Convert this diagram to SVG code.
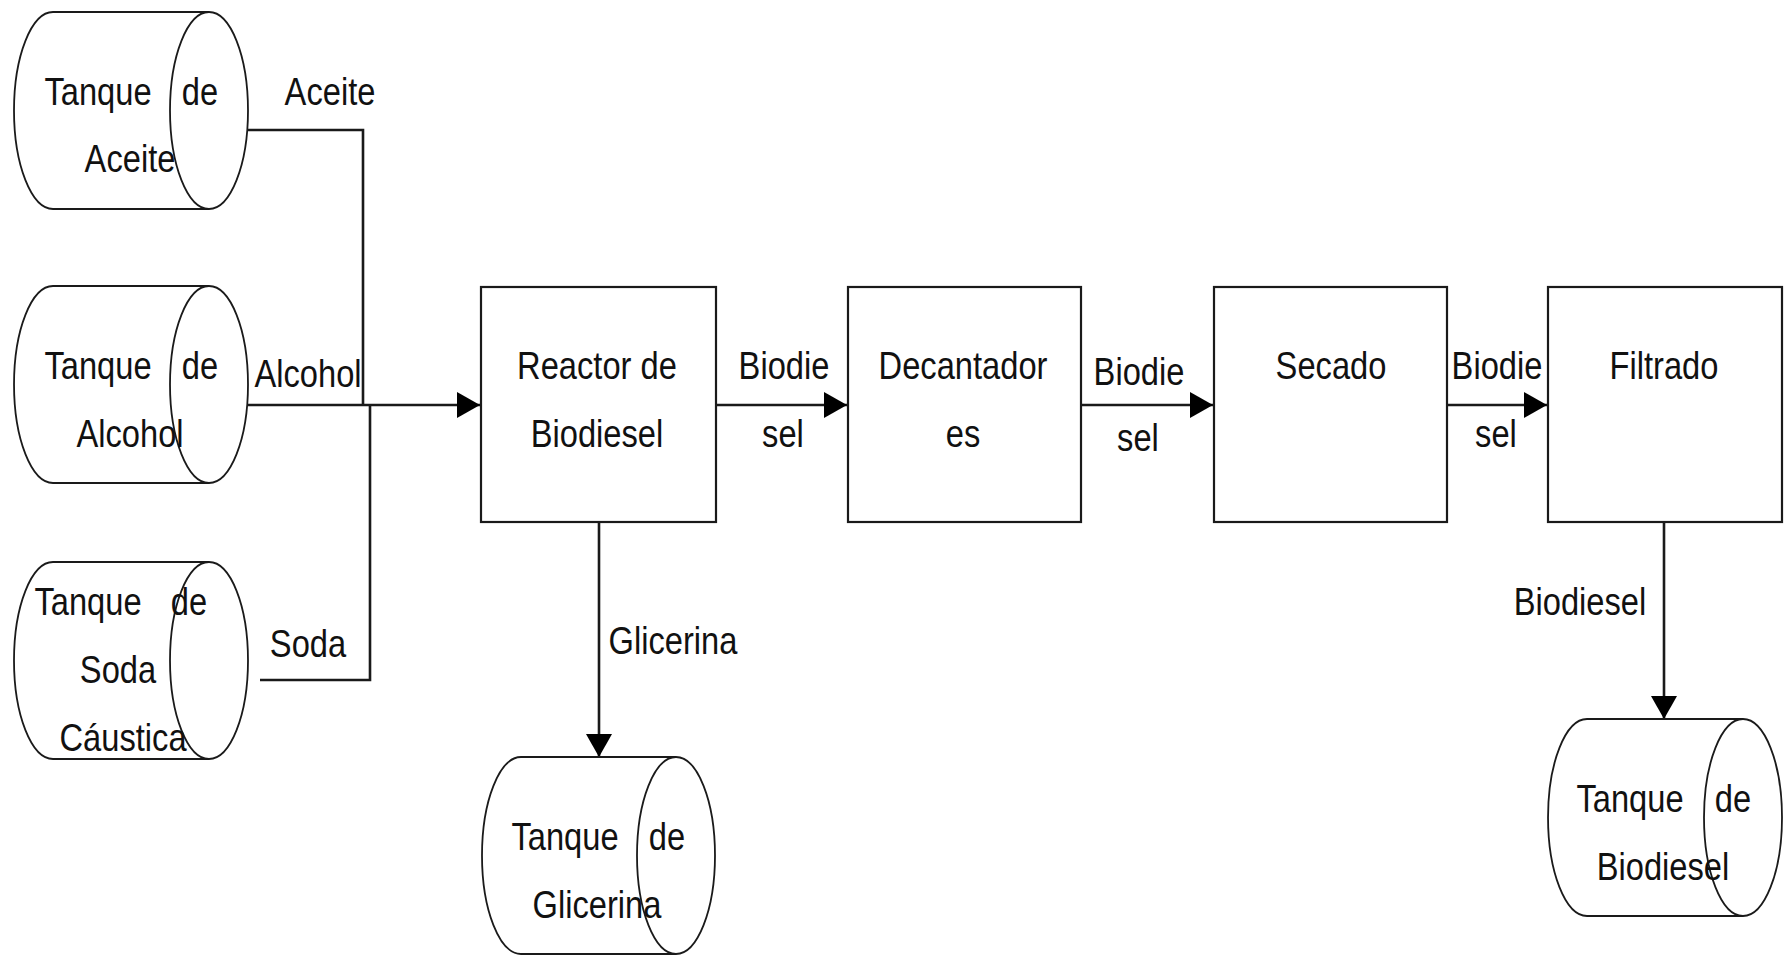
<svg xmlns="http://www.w3.org/2000/svg" width="1791" height="956" viewBox="0 0 1791 956">
<style>
  .bg { fill: #ffffff; }
  .box { fill: #ffffff; stroke: #1a1a1a; stroke-width: 2.2; }
  .cyl { fill: #ffffff; stroke: #1a1a1a; stroke-width: 1.8; }
  .conn { fill: none; stroke: #1a1a1a; stroke-width: 2.6; }
  text { font-family: "Liberation Sans", Arial, sans-serif; font-size: 38px; fill: #111111; text-anchor: middle; transform-box: fill-box; transform-origin: center; transform: scaleX(0.86); }
</style>
<defs>
  <marker id="arrow" markerUnits="userSpaceOnUse" markerWidth="24" markerHeight="26" refX="23" refY="13" orient="auto">
    <path d="M0,0 L23,13 L0,26 z" fill="#000000"/>
  </marker>
</defs>
<rect class="bg" x="0" y="0" width="1791" height="956"/>

<g id="connectors">
  <path class="conn" d="M248,130 H363 V405"/>
  <path class="conn" d="M260,680 H370 V405"/>
  <path class="conn" d="M248,405 H480" marker-end="url(#arrow)"/>
  <path class="conn" d="M716,405 H847" marker-end="url(#arrow)"/>
  <path class="conn" d="M1081,405 H1213" marker-end="url(#arrow)"/>
  <path class="conn" d="M1447,405 H1547" marker-end="url(#arrow)"/>
  <path class="conn" d="M599,522 V757" marker-end="url(#arrow)"/>
  <path class="conn" d="M1664,522 V719" marker-end="url(#arrow)"/>
  <text x="330" y="105">Aceite</text>
  <text x="308" y="387">Alcohol</text>
  <text x="308" y="657">Soda</text>
  <text x="784" y="379">Biodie</text>
  <text x="783" y="447">sel</text>
  <text x="1139" y="385">Biodie</text>
  <text x="1138" y="451">sel</text>
  <text x="1497" y="379">Biodie</text>
  <text x="1496" y="447">sel</text>
  <text x="673" y="654">Glicerina</text>
  <text x="1580" y="615">Biodiesel</text>
</g>

<g id="tanque-aceite">
  <path class="cyl" d="M209,12 H53 A39,98.5 0 0 0 53,209 H209"/>
  <ellipse class="cyl" cx="209" cy="110.5" rx="39" ry="98.5" fill="none"/>
  <text x="98" y="105">Tanque</text>
  <text x="200" y="105">de</text>
  <text x="130" y="172">Aceite</text>
</g>

<g id="tanque-alcohol">
  <path class="cyl" d="M209,286 H53 A39,98.5 0 0 0 53,483 H209"/>
  <ellipse class="cyl" cx="209" cy="384.5" rx="39" ry="98.5" fill="none"/>
  <text x="98" y="379">Tanque</text>
  <text x="200" y="379">de</text>
  <text x="130" y="447">Alcohol</text>
</g>

<g id="tanque-soda">
  <path class="cyl" d="M209,562 H53 A39,98.5 0 0 0 53,759 H209"/>
  <ellipse class="cyl" cx="209" cy="660.5" rx="39" ry="98.5" fill="none"/>
  <text x="88" y="615">Tanque</text>
  <text x="189" y="615">de</text>
  <text x="118" y="683">Soda</text>
  <text x="123" y="751">Cáustica</text>
</g>

<g id="reactor">
  <rect class="box" x="481" y="287" width="235" height="235"/>
  <text x="597" y="379">Reactor de</text>
  <text x="597" y="447">Biodiesel</text>
</g>

<g id="decantadores">
  <rect class="box" x="848" y="287" width="233" height="235"/>
  <text x="963" y="379">Decantador</text>
  <text x="963" y="447">es</text>
</g>

<g id="secado">
  <rect class="box" x="1214" y="287" width="233" height="235"/>
  <text x="1331" y="379">Secado</text>
</g>

<g id="filtrado">
  <rect class="box" x="1548" y="287" width="234" height="235"/>
  <text x="1664" y="379">Filtrado</text>
</g>

<g id="tanque-glicerina">
  <path class="cyl" d="M676,757 H521 A39,98.5 0 0 0 521,954 H676"/>
  <ellipse class="cyl" cx="676" cy="855.5" rx="39" ry="98.5" fill="none"/>
  <text x="565" y="850">Tanque</text>
  <text x="667" y="850">de</text>
  <text x="597" y="918">Glicerina</text>
</g>

<g id="tanque-biodiesel">
  <path class="cyl" d="M1743,719 H1587 A39,98.5 0 0 0 1587,916 H1743"/>
  <ellipse class="cyl" cx="1743" cy="817.5" rx="39" ry="98.5" fill="none"/>
  <text x="1630" y="812">Tanque</text>
  <text x="1733" y="812">de</text>
  <text x="1663" y="880">Biodiesel</text>
</g>
</svg>
